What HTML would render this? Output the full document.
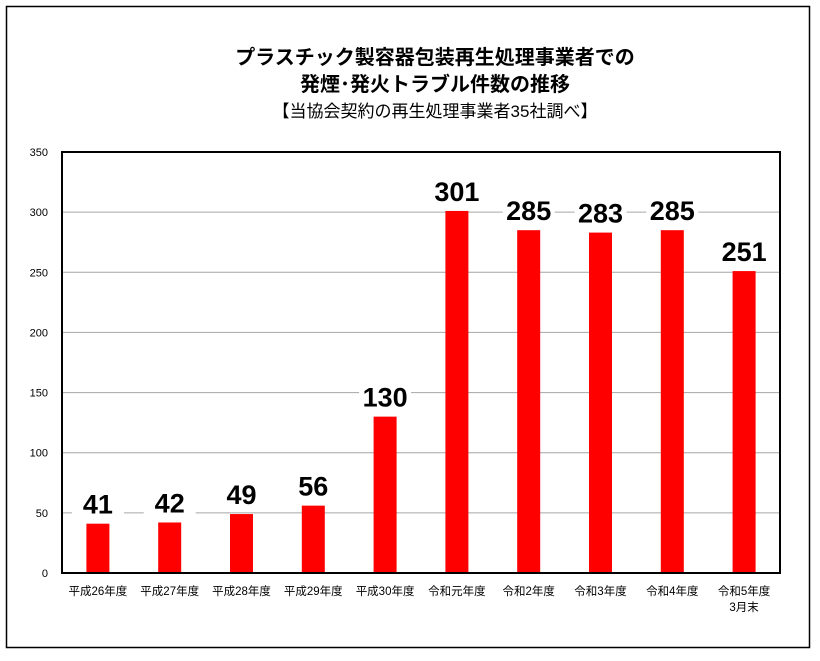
<!DOCTYPE html>
<html><head><meta charset="utf-8"><style>
body{margin:0;background:#fff;}
svg text{font-family:"Liberation Sans","Noto Sans CJK JP",sans-serif;}
</style></head><body>
<svg width="820" height="656" viewBox="0 0 820 656">
<rect x="6.5" y="6.5" width="803" height="641" fill="#fff" stroke="#000" stroke-width="1.5"/>
<text x="435" y="64" text-anchor="middle" font-size="20" font-weight="bold">プラスチック製容器包装再生処理事業者での</text>
<text x="435" y="91" text-anchor="middle" font-size="20" font-weight="bold">発煙･発火トラブル件数の推移</text>
<text x="435" y="117" text-anchor="middle" font-size="17">【当協会契約の再生処理事業者35社調べ】</text>
<g id="grid"></g>
<g id="bars"></g>
<rect x="62" y="152" width="718" height="421" fill="none" stroke="#000" stroke-width="2"/>
<g id="labels"></g>
</svg>
<script>
const categories=["平成26年度","平成27年度","平成28年度","平成29年度","平成30年度","令和元年度","令和2年度","令和3年度","令和4年度","令和5年度"];
const categorySub=["","","","","","","","","","3月末"];
const values=[41,42,49,56,130,301,285,283,285,251];
const ticks=[0,50,100,150,200,250,300,350];
const NS="http://www.w3.org/2000/svg";
const L=62,R=780,T=152,B=573,MAX=350;
const y=v=>B-(v/MAX)*(B-T);
const band=(R-L)/categories.length;
const x=i=>L+band*(i+0.5);
function mk(t,a,p){const e=document.createElementNS(NS,t);for(const k in a)e.setAttribute(k,a[k]);p.appendChild(e);return e;}
const grid=document.getElementById('grid'),bars=document.getElementById('bars'),labels=document.getElementById('labels');
ticks.forEach(t=>{
  if(t>0&&t<MAX){const g=mk('line',{x1:L,x2:R,y1:y(t),y2:y(t),stroke:'#a6a6a6','stroke-width':1},grid);
  
  }
  const tl=mk('text',{x:48,y:y(t)+4,'text-anchor':'end','font-size':11},labels);
  tl.textContent=t;
  
  
});
values.forEach((v,i)=>{
  const bw=23;
  const b=mk('rect',{x:x(i)-bw/2,y:y(v),width:bw,height:B-y(v),fill:'#ff0000'},bars);
  
  
  const bg=mk('rect',{x:x(i)-26,y:y(v)-36,width:52,height:30,fill:'#fff'},labels);
  
  
  const vl=mk('text',{x:x(i),y:y(v)-10,'text-anchor':'middle','font-size':27,'font-weight':'bold'},labels);
  vl.textContent=v;
  
  
  const cl=mk('text',{x:x(i),y:595,'text-anchor':'middle','font-size':11.5},labels);
  cl.textContent=categories[i];
  
  
  if(categorySub[i]){const s=mk('text',{x:x(i),y:611,'text-anchor':'middle','font-size':11.5},labels);
  s.textContent=categorySub[i];
  
  }
});
</script>
</body></html>
